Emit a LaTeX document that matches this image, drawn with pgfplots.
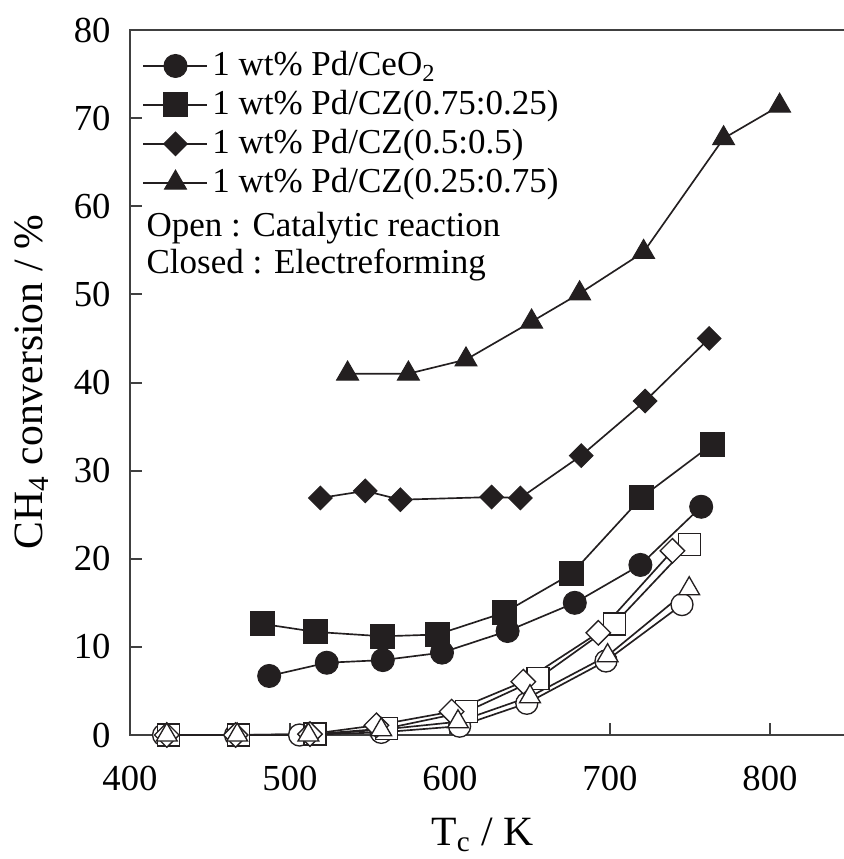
\documentclass[border=0pt]{standalone}
\usepackage{fontspec}
\setmainfont{Liberation Serif}
\usepackage{pgfplots}
\pgfplotsset{compat=1.18}
\definecolor{ink}{HTML}{231F20}
\definecolor{frame}{HTML}{404040}
\begin{document}
\begin{tikzpicture}
\useasboundingbox (-39pt,-37.2pt) rectangle (214.2pt,220.5pt);
\begin{axis}[
  at={(0pt,0pt)}, anchor=south west,
  scale only axis, width=216pt, height=211.5pt,
  xmin=400, xmax=850, ymin=0, ymax=80,
  xtick={400,500,600,700,800}, ytick={0,10,20,30,40,50,60,70,80},
  xtick pos=bottom, ytick pos=left,
  tick align=inside, major tick length=3.5pt,
  axis line style={frame, line width=0.6pt},
  every tick/.style={frame, line width=0.6pt},
  tick label style={font=\fontsize{11}{13}\selectfont},
  /pgf/number format/assume math mode=true,
  xticklabel style={yshift=-5.9pt},
  yticklabel style={xshift=-2.3pt},
  xlabel={T\textsubscript{c} / K},
  ylabel={CH\textsubscript{4} conversion / \%},
  label style={font=\fontsize{12.5}{14}\selectfont},
  xlabel style={at={(axis description cs:0.49,0)}, anchor=base, yshift=-33pt},
  ylabel style={at={(axis description cs:-0.122,0.5)}, anchor=base, rotate=0},
  legend style={at={(axis description cs:0,1)}, anchor=north west, draw=none, fill=none,
    font=\fontsize{10.5}{12}\selectfont, xshift=0.6pt, yshift=-3pt, row sep=0.5pt,
    nodes={inner sep=1.2pt, text depth=0.15em}},
  legend cell align=left,
  legend image code/.code={\draw[mark repeat=2,mark phase=2] plot coordinates {(0pt,0pt)(9.6pt,0pt)(19.2pt,0pt)};},
  every axis plot/.append style={ink, line width=0.5pt},
]
% Closed: electroreforming
\addplot[ink, mark=*, mark size=3.45pt, mark options={fill=ink, draw=ink, line width=0.3pt}] coordinates {
 (487,6.7) (523,8.2) (558,8.5) (595,9.35) (636,11.8) (678,15.0) (719,19.3) (757,25.9)};
\addlegendentry{1 wt\% Pd/CeO\textsubscript{2}}
\addplot[ink, mark=square*, mark size=3.6pt, mark options={fill=ink, draw=ink, line width=0.3pt}] coordinates {
 (483,12.6) (516,11.7) (558,11.2) (592,11.4) (634,13.9) (676,18.3) (720,27.0) (764,33.0)};
\addlegendentry{1 wt\% Pd/CZ(0.75:0.25)}
\addplot[ink, mark=square*, mark size=2.5pt, mark options={fill=ink, draw=ink, rotate=45, line width=0.3pt}] coordinates {
 (519,26.9) (547,27.7) (569,26.7) (626,27.0) (644,26.9) (682,31.7) (722,37.9) (762,45.0)};
\addlegendentry{1 wt\% Pd/CZ(0.5:0.5)}
\addplot[ink, mark=triangle*, mark size=3.8pt, mark options={fill=ink, draw=ink, line width=0.3pt}] coordinates {
 (536,41.0) (574,41.0) (610,42.6) (651,46.9) (681,50.1) (721,54.8) (771,67.7) (806,71.4)};
\addlegendentry{1 wt\% Pd/CZ(0.25:0.75)}
% Open: catalytic reaction
\addplot[forget plot, ink, mark=*, mark size=3.3pt, mark options={fill=white, draw=ink, line width=0.4pt}] coordinates {
 (421,0) (466,0) (506,0) (557,0.3) (606,1.0) (648,3.6) (697.5,8.4) (745,14.8)};
\addplot[forget plot, ink, mark=square*, mark size=3.3pt, mark options={fill=white, draw=ink, line width=0.4pt}] coordinates {
 (424,0) (468,0) (515.6,0.1) (560.4,0.75) (610.4,2.65) (655,6.4) (702.7,12.6) (749.5,21.6)};
\addplot[forget plot, ink, mark=square*, mark size=2.6pt, mark options={fill=white, draw=ink, rotate=45, line width=0.4pt}] coordinates {
 (423,0) (466,0) (512.5,0.1) (554,1.1) (601,2.65) (645.8,6.05) (692.7,11.6) (739,20.9)};
\addplot[forget plot, ink, mark=triangle*, mark size=3.6pt, mark options={fill=white, draw=ink, line width=0.4pt}] coordinates {
 (423,0) (467,0) (511.5,0) (557,0.6) (605,1.5) (650,4.35) (698.5,9.0) (749.5,16.6)};
\node[anchor=base west, inner sep=0pt, font=\fontsize{10.5}{12}\selectfont] at (axis description cs:0.0222,0.7064) {Open : Catalytic reaction};
\node[anchor=base west, inner sep=0pt, font=\fontsize{10.5}{12}\selectfont] at (axis description cs:0.0222,0.6553) {Closed : Electreforming};
\end{axis}
\end{tikzpicture}
\end{document}
